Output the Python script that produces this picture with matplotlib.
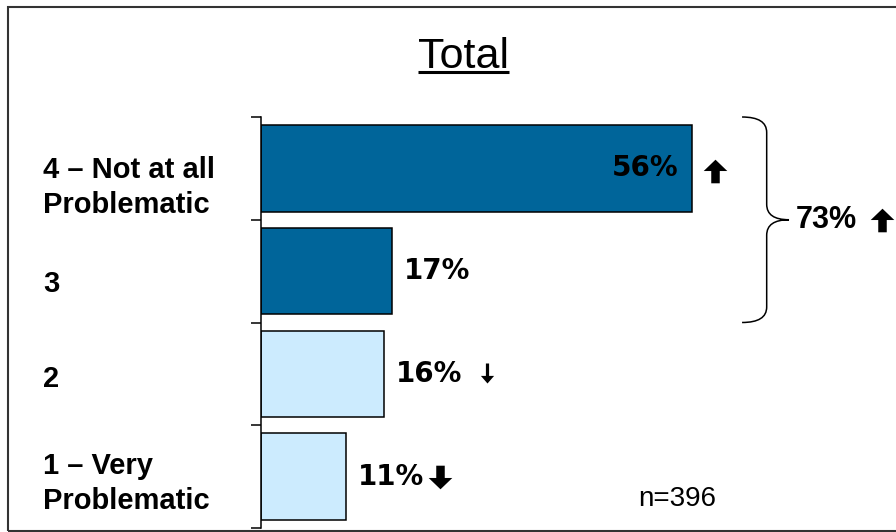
import matplotlib
matplotlib.use("Agg")
import matplotlib.pyplot as plt
from matplotlib.path import Path
from matplotlib.patches import PathPatch, Rectangle
from matplotlib.lines import Line2D
from matplotlib.transforms import blended_transform_factory, ScaledTranslation

plt.rcParams["font.family"] = ["Liberation Sans", "DejaVu Sans"]

# --- data ---
categories = ["4 – Not at all\nProblematic", "3", "2", "1 – Very\nProblematic"]
values = [56, 17, 16, 11]
value_labels = ["56%", "17%", "16%", "11%"]
bar_colors = ["#00659A", "#00659A", "#CCEBFE", "#CCEBFE"]
changes = ["up", None, "down_thin", "down"]
top_box_label = "73%"
top_box_change = "up"
title = "Total"
n_label = "n=396"

DPI = 100
fig = plt.figure(figsize=(8.96, 5.32), dpi=DPI)
ax = fig.add_axes([261 / 896, 4 / 532, 635 / 896, 411 / 532])

ypos = list(range(len(categories)))
ax.barh(ypos, values, height=0.84, color=bar_colors, edgecolor="black", linewidth=1.1)
ax.set_ylim(len(categories) - 0.5, -0.5)
ax.set_xlim(0, 82.5)

for s in ["top", "right", "bottom"]:
    ax.spines[s].set_visible(False)
ax.spines["left"].set_linewidth(1.1)
ax.set_xticks([])
ax.set_yticks([i - 0.5 for i in range(len(categories) + 1)])
ax.set_yticklabels([])
ax.tick_params(axis="y", length=7, width=1.1, direction="out")


def px(dx, dy):
    # offset in pixels (dy positive = down)
    return ScaledTranslation(dx / DPI, -dy / DPI, fig.dpi_scale_trans)


# category labels, left aligned near the figure edge
lab_trans = blended_transform_factory(fig.transFigure, ax.transData)
label_dy = [19, 13, 5, 7]
for i, cat in enumerate(categories):
    ax.text(43 / 896, i, cat, transform=lab_trans + px(0, label_dy[i]), ha="left",
            va="center", fontsize=21, fontweight="bold", linespacing=1.3)

# value labels
for i, (v, lab) in enumerate(zip(values, value_labels)):
    if i == 0:
        ax.text(v, i, lab, transform=ax.transData + px(-14, 0), ha="right",
                va="center", fontsize=20, fontweight="bold", family="DejaVu Sans")
    else:
        ax.text(v, i, lab, transform=ax.transData + px(12, 0), ha="left",
                va="center", fontsize=20, fontweight="bold", family="DejaVu Sans")

# arrow markers
up_block = Path([(-0.18, -0.5), (0.18, -0.5), (0.18, 0.02), (0.5, 0.02), (0, 0.5),
                 (-0.5, 0.02), (-0.18, 0.02), (-0.18, -0.5)], closed=True)
down_block = Path([(x, -y) for x, y in up_block.vertices], closed=True)
down_thin = Path([(-0.08, 0.5), (0.08, 0.5), (0.08, -0.12), (0.33, -0.12), (0, -0.5),
                  (-0.33, -0.12), (-0.08, -0.12), (-0.08, 0.5)], closed=True)
arrow_style = {
    "up": (up_block, 17, 22.5, 3),
    "down": (down_block, 17, 94, 0),
    "down_thin": (down_thin, 14.4, 102.5, -1),
}
for i, (v, ch) in enumerate(zip(values, changes)):
    if ch is None:
        continue
    path, size, dx, dy = arrow_style[ch]
    ax.plot([v], [i], marker=path, markersize=size, color="black",
            markeredgewidth=0, transform=ax.transData + px(dx, dy), clip_on=False)

# curly brace around the top two bars
x0, xm, xt = 62.5, 65.7, 68.6
top, mid, bot, r = -0.5, 0.5, 1.5, 0.15
brace = Path(
    [(x0, top), (xm, top), (xm, top + r), (xm, mid - r), (xm, mid), (xt, mid),
     (xm, mid), (xm, mid + r), (xm, bot - r), (xm, bot), (x0, bot)],
    [Path.MOVETO, Path.CURVE3, Path.CURVE3, Path.LINETO, Path.CURVE3, Path.CURVE3,
     Path.CURVE3, Path.CURVE3, Path.LINETO, Path.CURVE3, Path.CURVE3],
)
ax.add_patch(PathPatch(brace, fill=False, lw=1.1, edgecolor="black", clip_on=False))
ax.text(69.5, mid, top_box_label, ha="left", va="center", fontsize=22,
        fontweight="bold", clip_on=False)
path, size, _, _ = arrow_style[top_box_change]
ax.plot([80.7], [mid], marker=path, markersize=size, color="black",
        markeredgewidth=0, clip_on=False)

# sample size
fig.text(638 / 896, 26 / 532, n_label, ha="left", va="baseline", fontsize=20)

# underlined title
title_y = 464 / 532
t = fig.text(463 / 896, title_y, title, ha="center", va="baseline", fontsize=31)
fig.canvas.draw()
bb = t.get_window_extent().transformed(fig.transFigure.inverted())
fig.add_artist(Line2D([bb.x0, bb.x1], [title_y - 4 / 532] * 2, color="black",
                      lw=2.2, transform=fig.transFigure, solid_capstyle="butt"))

# frame around the figure (open on the right)
fig.add_artist(Rectangle((7.5 / 896, 1.0 / 532), 1.0, 524.5 / 532, fill=False,
                         lw=1.5, edgecolor="#333333", transform=fig.transFigure))

fig.savefig("out.png", dpi=DPI)
